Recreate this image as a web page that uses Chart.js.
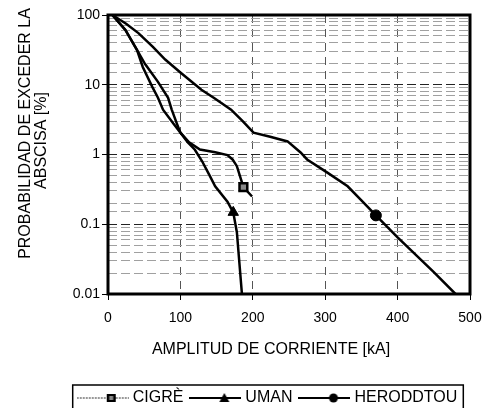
<!DOCTYPE html>
<html>
<head>
<meta charset="utf-8">
<title>Probabilidad de exceder la abscisa</title>
<script src="https://cdn.jsdelivr.net/npm/chart.js@4.4.1/dist/chart.umd.min.js"></script>
<style>
  html, body { margin: 0; padding: 0; background: #fff; }
  #wrap { width: 482px; height: 408px; }
</style>
</head>
<body>
<div id="wrap"><canvas id="myChart"></canvas></div>
<script>
// valores: amplitud [kA] y probabilidad [%]
const cigreAmp  = [6, 24, 40, 48, 61, 69, 76, 90, 100, 112, 127, 148, 165, 172, 178, 185, 187, 199]
const cigreProb = [100, 61, 31.6, 18, 9.4, 6.5, 4.4, 2.8, 2.06, 1.5, 1.18, 1.08, 0.98, 0.85, 0.68, 0.4, 0.34, 0.25]
const cigreMarker = 16

const umanAmp  = [6, 24, 40, 51, 69, 83, 88, 95, 100, 110, 120, 130, 141, 148, 165, 173, 178, 181, 185]
const umanProb = [100, 61, 31.6, 20, 11, 6.5, 4.4, 2.8, 2.06, 1.5, 1.17, 0.8, 0.485, 0.35, 0.21, 0.148, 0.077, 0.032, 0.01]
const umanMarker = 15

const herodAmp  = [6, 25, 42, 62, 79, 100, 129, 146, 170, 186, 201, 224, 248, 266, 275, 303, 331, 350, 370, 400, 450, 480]
const herodProb = [100, 75, 55, 35, 23, 15, 8.5, 6.5, 4.4, 3.0, 2.06, 1.8, 1.54, 1.07, 0.85, 0.55, 0.35, 0.22, 0.134, 0.065, 0.0206, 0.01]
const herodMarker = 18

const seriesNames = ['CIGRÈ', 'UMAN', 'HERODDTOU']

const xTickValues = [0, 100, 200, 300, 400, 500]
const xTickLabels = ['0', '100', '200', '300', '400', '500']
const yTickValues = [0.01, 0.1, 1, 10, 100]
const yTickLabels = ['0.01', '0.1', '1', '10', '100']

const yTitle = ['PROBABILIDAD DE EXCEDER LA', 'ABSCISA [%]']
const xTitle = 'AMPLITUD DE CORRIENTE [kA]'

const FONT = '"Liberation Sans", Arial, sans-serif'

function toPoints(xs, ys) {
    return xs.map((x, i) => ({x: x, y: ys[i]}))
}

function isDecade(v) {
    const l = Math.log10(v)
    return Math.abs(l - Math.round(l)) < 1e-6
}

// iconos de leyenda: linea con el marcador
function legendIcon(kind) {
    const c = document.createElement('canvas')
    c.width = 52
    c.height = 16
    const g = c.getContext('2d')
    g.beginPath()
    g.moveTo(0, 8)
    g.lineTo(52, 8)
    if (kind === 'rect') {
        g.strokeStyle = '#777'
        g.lineWidth = 1.5
        g.setLineDash([2, 1])
    } else {
        g.strokeStyle = '#000'
        g.lineWidth = 2
    }
    g.stroke()
    g.setLineDash([])
    g.fillStyle = '#000'
    if (kind === 'rect') {
        g.fillRect(30, 4, 9, 8)
        g.fillStyle = '#888'
        g.fillRect(32.5, 6, 4, 4)
    } else if (kind === 'triangle') {
        g.beginPath()
        g.moveTo(35, 3)
        g.lineTo(40, 12)
        g.lineTo(30, 12)
        g.closePath()
        g.fill()
    } else {
        g.beginPath()
        g.arc(35, 8, 4.5, 0, Math.PI * 2)
        g.fill()
    }
    return c
}

const legendIcons = [legendIcon('rect'), legendIcon('triangle'), legendIcon('circle')]

function makeDataset(name, xs, ys, markerIdx, style, fill) {
    return {
        label: name,
        data: toPoints(xs, ys),
        showLine: true,
        borderColor: '#000',
        borderWidth: 2.5,
        tension: 0,
        pointStyle: style,
        pointRadius: c => c.dataIndex === markerIdx ? (style === 'triangle' ? 6 : 5.5) : 0,
        pointHoverRadius: 0,
        pointBackgroundColor: fill,
        pointBorderColor: '#000',
        pointBorderWidth: style === 'rect' ? 2.5 : 1
    }
}

function rotatedText(ctx, text, x, y) {
    ctx.save()
    ctx.translate(x, y)
    ctx.rotate(-Math.PI / 2)
    ctx.fillText(text, 0, 0)
    ctx.restore()
}

const frame = {
    id: 'frame',
    afterLayout(chart) {
        // desplazar la leyenda como en el original
        const lg = chart.legend
        lg.left += 34
        lg.right += 34
        lg.top += 8
        lg.bottom += 8
    },
    afterDraw(chart) {
        const ctx = chart.ctx
        const a = chart.chartArea
        ctx.save()
        ctx.strokeStyle = '#000'
        ctx.lineWidth = 3
        ctx.strokeRect(a.left, a.top, a.right - a.left, a.bottom - a.top)

        // titulos de los ejes
        ctx.fillStyle = '#000'
        ctx.font = '16px ' + FONT
        ctx.textAlign = 'center'
        ctx.textBaseline = 'middle'
        const cy = (a.top + a.bottom) / 2
        rotatedText(ctx, yTitle[0], 26, cy - 21)
        rotatedText(ctx, yTitle[1], 42, cy - 14)
        ctx.fillText(xTitle, (a.left + a.right) / 2 - 18, a.bottom + 56)

        // marco de la leyenda
        const lg = chart.legend
        const pad = lg.options.labels.padding
        const rowW = lg.lineWidths[0]
        const x0 = (lg.left + pad + lg.right - rowW) / 2
        ctx.lineWidth = 1.5
        ctx.strokeRect(x0 - 8, lg.top + 5, rowW - pad + 14, 28)
        ctx.restore()
    }
}

new Chart(document.getElementById('myChart'), {
    type: 'scatter',
    data: {
        datasets: [
            makeDataset(seriesNames[0], cigreAmp, cigreProb, cigreMarker, 'rect', '#888'),
            makeDataset(seriesNames[1], umanAmp, umanProb, umanMarker, 'triangle', '#000'),
            makeDataset(seriesNames[2], herodAmp, herodProb, herodMarker, 'circle', '#000')
        ]
    },
    options: {
        responsive: true,
        maintainAspectRatio: false,
        animation: false,
        layout: {padding: {top: 15, right: 12, left: 0, bottom: 0}},
        plugins: {
            tooltip: {enabled: false},
            legend: {
                position: 'bottom',
                labels: {
                    usePointStyle: true,
                    pointStyleWidth: 44,
                    padding: 10,
                    color: '#000',
                    font: {family: FONT, size: 16},
                    generateLabels: chart => Chart.defaults.plugins.legend.labels.generateLabels(chart)
                        .map((item, i) => Object.assign(item, {pointStyle: legendIcons[i]}))
                }
            }
        },
        scales: {
            x: {
                type: 'linear',
                min: 0,
                max: 500,
                afterFit: s => {
                    s.height = 78
                    s.paddingRight = 0
                    s.paddingLeft = 0
                },
                afterBuildTicks: s => { s.ticks = xTickValues.map(v => ({value: v})) },
                ticks: {
                    color: '#000',
                    font: {family: FONT, size: 14},
                    padding: 10,
                    callback: v => {
                        const i = xTickValues.indexOf(v)
                        return i >= 0 ? xTickLabels[i] : ''
                    }
                },
                grid: {
                    color: '#555',
                    lineWidth: 1,
                    tickLength: 6,
                    tickColor: '#000',
                    tickBorderDash: []
                },
                border: {display: false, dash: [8, 6]}
            },
            y: {
                type: 'logarithmic',
                min: 0.01,
                max: 100,
                afterFit: s => { s.width = 108 },
                ticks: {
                    autoSkip: false,
                    color: '#000',
                    font: {family: FONT, size: 14},
                    padding: 2,
                    callback: v => {
                        const i = yTickValues.findIndex(t => Math.abs(t - v) < t * 1e-6)
                        return i >= 0 ? yTickLabels[i] : ''
                    }
                },
                grid: {
                    color: c => c.tick && isDecade(c.tick.value) ? '#222' : '#a0a0a0',
                    lineWidth: 1,
                    tickLength: 6,
                    tickColor: c => c.tick && isDecade(c.tick.value) ? '#000' : 'rgba(0,0,0,0)',
                    tickBorderDash: []
                },
                border: {display: false, dash: [9, 4]}
            }
        }
    },
    plugins: [frame]
})
</script>
</body>
</html>
